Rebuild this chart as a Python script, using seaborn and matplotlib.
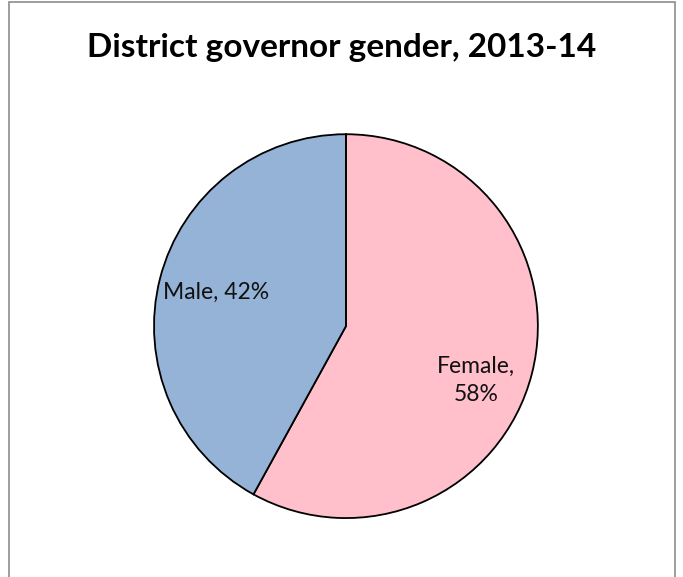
import matplotlib
matplotlib.use("Agg")
import matplotlib.pyplot as plt
import seaborn as sns
from matplotlib.patches import Rectangle

# data
genders = ["Female", "Male"]
shares = [58, 42]
colors = ["#FFBFCB", "#95B3D7"]
title = "District governor gender, 2013-14"

sns.set_theme(style="white")
plt.rcParams['font.family'] = ['Lato', 'DejaVu Sans']

fig = plt.figure(figsize=(6.83, 5.77), dpi=100)

# outer chart frame (bottom edge runs off the image)
fig.patches.append(Rectangle((9 / 683, -0.05), 666 / 683, 1.05 - 2 / 577,
                             transform=fig.transFigure, fill=False,
                             edgecolor="#8c8c8c", linewidth=1.2))

fig.text(0.5, 0.917, title, ha="center", va="center",
         fontsize=24, fontweight="bold", color="black")

ax = fig.add_axes([0.2255, 0.102, 0.562, 0.6655])
labels = [f"{genders[0]},\n{shares[0]}%", f"{genders[1]}, {shares[1]}%"]
wedges, texts = ax.pie(shares, labels=labels, colors=colors, startangle=90,
                       counterclock=False, labeldistance=0.7,
                       wedgeprops=dict(edgecolor="black", linewidth=1.3),
                       textprops=dict(fontsize=16.5, color="#111111"))
for t in texts:
    t.set_horizontalalignment("center")
    t.set_verticalalignment("center")
    t.set_multialignment("center")
    t.set_linespacing(1.45)
# Excel places the female label a bit lower
x, y = texts[0].get_position()
texts[0].set_position((x, y - 0.11))
ax.set_xlim(-1, 1)
ax.set_ylim(-1, 1)
ax.set_aspect("equal")

fig.savefig("out.png", dpi=100)
